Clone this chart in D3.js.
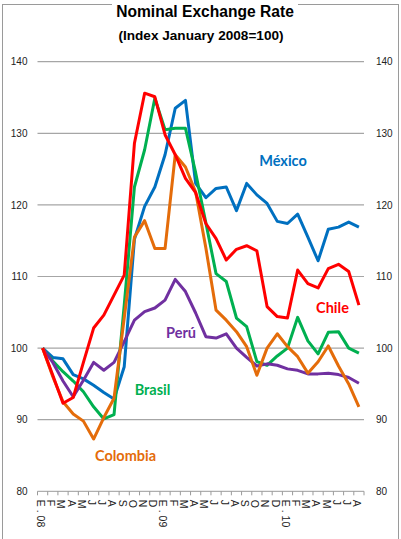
<!DOCTYPE html>
<html>
<head>
<meta charset="utf-8">
<script src="https://cdn.jsdelivr.net/npm/d3@7"></script>
<style>
  html, body { margin: 0; padding: 0; background: #fff; }
  svg { display: block; }
</style>
</head>
<body>
<svg id="chart" width="401" height="539"></svg>
<script>
// Monthly nominal exchange rate index, January 2008 = 100 (Jan 2008 - Aug 2010)
const months = ["E . 08","F","M","A","M","J","J","A","S","O","N","D",
                "E . 09","F","M","A","M","J","J","A","S","O","N","D",
                "E . 10","F","M","A","M","J","J","A"];

const mexico   = [100, 98.7, 98.5, 96.3, 95.7, 94.8, 93.8, 92.9, 97.4, 115.2, 119.8, 122.5,
                  127.0, 133.5, 134.6, 123.0, 121.0, 122.3, 122.5, 119.2, 123.0, 121.4, 120.2, 117.7,
                  117.4, 118.7, 115.5, 112.2, 116.6, 116.9, 117.6, 116.9];
const chile    = [100, 96.2, 92.3, 93.1, 98.0, 102.8, 104.6, 107.4, 110.2, 128.6, 135.6, 135.1,
                  129.8, 127.0, 123.7, 121.7, 117.4, 115.3, 112.3, 113.8, 114.3, 113.6, 105.8, 104.4,
                  104.2, 110.9, 109.0, 108.4, 111.1, 111.7, 110.7, 106.0];
const brasil   = [100, 98.2, 96.7, 95.4, 93.9, 91.8, 90.1, 90.7, 106.0, 122.5, 127.7, 134.9,
                  130.5, 130.7, 130.7, 124.5, 117.5, 110.4, 109.3, 104.2, 103.0, 98.1, 97.6, 98.9,
                  100.0, 104.3, 101.0, 99.2, 102.2, 102.3, 100.0, 99.3];
const colombia = [100, 96.0, 92.5, 90.8, 89.8, 87.3, 90.3, 93.0, 104.2, 115.5, 117.8, 113.9,
                  113.9, 127.0, 125.3, 121.8, 114.0, 105.3, 103.9, 102.3, 100.2, 96.2, 100.0, 102.0,
                  100.2, 98.8, 96.5, 98.1, 100.3, 97.5, 95.0, 91.8];
const peru     = [100, 98.0, 95.4, 93.2, 95.5, 98.0, 96.9, 98.0, 100.9, 103.9, 105.1, 105.6,
                  106.7, 109.6, 107.9, 104.9, 101.6, 101.4, 102.0, 100.0, 98.7, 97.5, 97.8, 97.6,
                  97.1, 96.9, 96.4, 96.4, 96.5, 96.3, 95.9, 95.1];

const yTicks = [80, 90, 100, 110, 120, 130, 140];

// Drawing order: later series sit on top
const series = [
  { name: "México",   values: mexico,   color: "#0070C0", lx: 283,   ly: 166 },
  { name: "Brasil",   values: brasil,   color: "#00B050", lx: 152.5, ly: 394.5 },
  { name: "Perú",     values: peru,     color: "#7030A0", lx: 181,   ly: 337.5 },
  { name: "Colombia", values: colombia, color: "#E46C0A", lx: 125.5, ly: 461 },
  { name: "Chile",    values: chile,    color: "#FF0000", lx: 332.5, ly: 313 }
];

const svg = d3.select("#chart");
const plot = { left: 37.5, right: 364, top: 61.7, bottom: 491.3 };

// Outer frame
svg.append("rect")
  .attr("x", 2.5).attr("y", 4.5).attr("width", 396).attr("height", 560)
  .attr("fill", "#fff").attr("stroke", "#9a9a9a").attr("stroke-width", 1);

const x = d3.scaleBand().domain(d3.range(months.length)).range([plot.left, plot.right]);
const cx = i => x(i) + x.bandwidth() / 2;
const y = d3.scaleLinear().domain([80, 140]).range([plot.bottom, plot.top]);

// Title block (white backing breaks the frame line)
svg.append("rect").attr("x", 112).attr("y", 0).attr("width", 186).attr("height", 22).attr("fill", "#fff");
svg.append("text")
  .attr("x", 205).attr("y", 17)
  .attr("text-anchor", "middle")
  .attr("font-family", "Liberation Sans, Arial, sans-serif")
  .attr("font-weight", "bold").attr("font-size", 15.6)
  .text("Nominal Exchange Rate");
svg.append("text")
  .attr("x", 201).attr("y", 40)
  .attr("text-anchor", "middle")
  .attr("font-family", "Liberation Sans, Arial, sans-serif")
  .attr("font-weight", "bold").attr("font-size", 13.6)
  .text("(Index January 2008=100)");

// Horizontal gridlines
svg.append("g")
  .selectAll("line")
  .data(yTicks.filter(v => v > 80))
  .join("line")
  .attr("x1", plot.left).attr("x2", plot.right)
  .attr("y1", d => y(d)).attr("y2", d => y(d))
  .attr("stroke", "#a6a6a6").attr("stroke-width", 1.2);

// Left and right value axes (labels only)
const axisL = svg.append("g").attr("transform", `translate(${plot.left},0)`)
  .call(d3.axisLeft(y).tickValues(yTicks).tickSize(0).tickPadding(10));
const axisR = svg.append("g").attr("transform", `translate(${plot.right},0)`)
  .call(d3.axisRight(y).tickValues(yTicks).tickSize(0).tickPadding(12));
[axisL, axisR].forEach(g => {
  g.select(".domain").remove();
  g.selectAll("text")
    .attr("font-family", "Liberation Sans, Arial, sans-serif")
    .attr("font-size", 10).attr("fill", "#222");
});

// Category axis at 80 with boundary tick marks
const xAxis = svg.append("g");
xAxis.append("line")
  .attr("x1", plot.left).attr("x2", plot.right)
  .attr("y1", y(80)).attr("y2", y(80))
  .attr("stroke", "#9a9a9a").attr("stroke-width", 1);
xAxis.selectAll("line.tick")
  .data(d3.range(months.length + 1))
  .join("line")
  .attr("class", "tick")
  .attr("x1", i => plot.left + i * x.step()).attr("x2", i => plot.left + i * x.step())
  .attr("y1", y(80)).attr("y2", y(80) + 4)
  .attr("stroke", "#9a9a9a").attr("stroke-width", 1);
xAxis.selectAll("text")
  .data(months)
  .join("text")
  .attr("transform", (d, i) => `translate(${cx(i) - 2},${y(80) + 8.5}) rotate(90)`)
  .attr("dy", "0.35em")
  .attr("font-family", "Liberation Sans, Arial, sans-serif")
  .attr("font-size", 10.5).attr("fill", "#222")
  .text(d => d);

// Series lines
const line = d3.line().x((d, i) => cx(i)).y(d => y(d));
svg.append("g")
  .selectAll("path")
  .data(series)
  .join("path")
  .attr("d", d => line(d.values))
  .attr("fill", "none")
  .attr("stroke", d => d.color)
  .attr("stroke-width", 3)
  .attr("stroke-linejoin", "round");

// Series names
svg.append("g")
  .selectAll("text")
  .data(series)
  .join("text")
  .attr("x", d => d.lx).attr("y", d => d.ly)
  .attr("text-anchor", "middle")
  .attr("font-family", "Lato, sans-serif")
  .attr("font-weight", "bold").attr("font-size", 14.5)
  .attr("fill", d => d.color)
  .text(d => d.name);
</script>
</body>
</html>
